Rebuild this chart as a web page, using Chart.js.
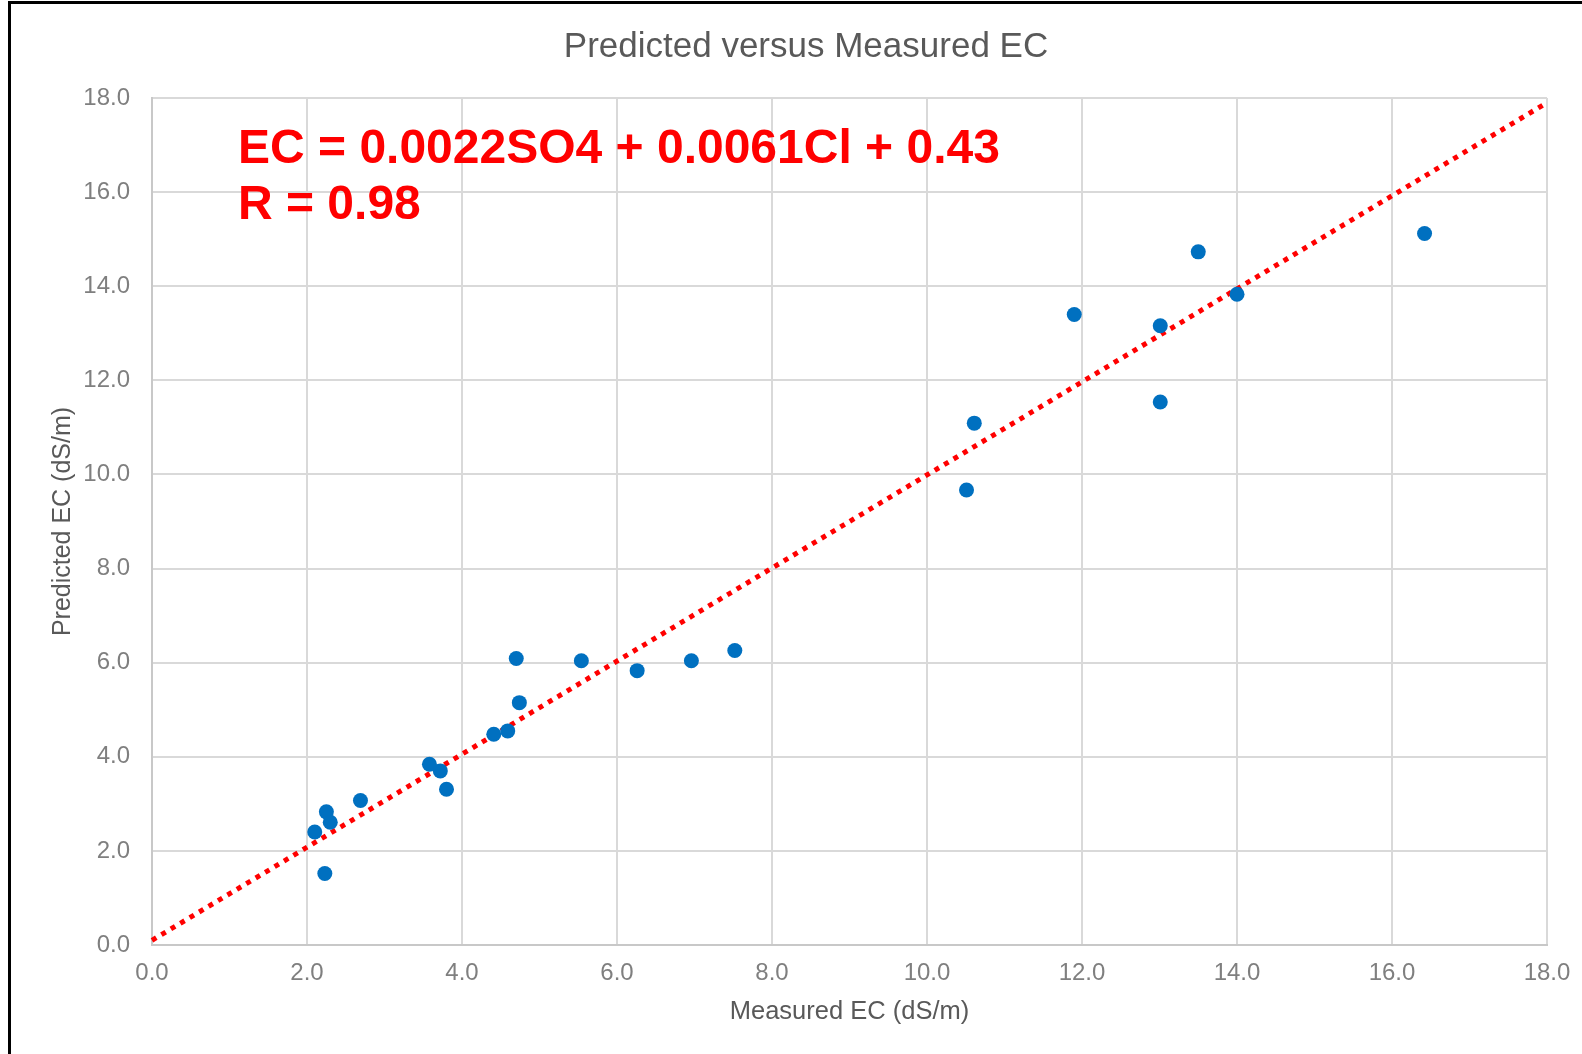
<!DOCTYPE html>
<html>
<head>
<meta charset="utf-8">
<script src="https://cdn.jsdelivr.net/npm/chart.js@4.4.1/dist/chart.umd.min.js"></script>
<style>
  html, body { margin: 0; padding: 0; background: #ffffff; }
  #wrap { position: relative; width: 1582px; height: 1054px; overflow: hidden; }
  #frame { position: absolute; left: 8px; top: 1px; width: 1580px; height: 1060px;
           border-top: 3px solid #000; border-left: 3px solid #000; pointer-events: none; }
  canvas { display: block; }
</style>
</head>
<body>
<div id="wrap">
  <canvas id="c" width="1582" height="1054"></canvas>
  <div id="frame"></div>
</div>
<script>
// ---- Data ----
const measuredEC = [4.70, 5.54, 6.26, 6.96, 7.52, 4.74, 4.41, 4.59, 3.58, 3.72, 3.80, 2.69, 2.25, 2.30, 2.10, 2.23,
                    16.42, 13.50, 14.00, 11.90, 13.01, 13.01, 10.61, 10.51];
const predictedEC = [6.09, 6.04, 5.83, 6.04, 6.26, 5.15, 4.48, 4.55, 3.84, 3.70, 3.31, 3.07, 2.83, 2.61, 2.40, 1.52,
                     15.12, 14.73, 13.83, 13.40, 13.16, 11.54, 11.09, 9.67];
const trendX = [0, 18];
const trendY = [0.1, 17.9];
const axisTicks = [0, 2, 4, 6, 8, 10, 12, 14, 16, 18];
const chartTitle = 'Predicted versus Measured EC';
const xTitle = 'Measured EC (dS/m)';
const yTitle = 'Predicted EC (dS/m)';
const annotationLines = ['EC = 0.0022SO4 + 0.0061Cl + 0.43', 'R = 0.98'];

const FONT = "'Liberation Sans', Arial, sans-serif";

const points = measuredEC.map((x, i) => ({ x: x, y: predictedEC[i] }));
const trend = trendX.map((x, i) => ({ x: x, y: trendY[i] }));

const textPlugin = {
  id: 'textPlugin',
  afterDatasetsDraw(chart) {
    const ctx = chart.ctx;
    const a = chart.chartArea;
    ctx.save();
    // Equation annotation
    ctx.fillStyle = '#FF0000';
    ctx.font = 'bold 48px ' + FONT;
    ctx.textAlign = 'left';
    ctx.textBaseline = 'alphabetic';
    ctx.fillText(annotationLines[0], a.left + 86, a.top + 64.5);
    ctx.fillText(annotationLines[1], a.left + 86, a.top + 120.5);
    // Chart title
    ctx.fillStyle = '#595959';
    ctx.font = '35px ' + FONT;
    ctx.textAlign = 'center';
    ctx.fillText(chartTitle, chart.width / 2 + 15, 57);
    ctx.restore();
  }
};

new Chart(document.getElementById('c'), {
  type: 'scatter',
  data: {
    datasets: [
      {
        label: 'Measured vs Predicted',
        data: points,
        backgroundColor: '#0070C0',
        borderColor: '#0070C0',
        borderWidth: 0,
        pointRadius: 7.5,
        pointHoverRadius: 7.5,
        order: 1
      },
      {
        type: 'line',
        label: 'Trend',
        data: trend,
        borderColor: '#FF0000',
        borderWidth: 5,
        borderDash: [5, 6],
        borderCapStyle: 'butt',
        pointRadius: 0,
        fill: false,
        tension: 0,
        clip: false,
        order: 2
      }
    ]
  },
  options: {
    responsive: false,
    devicePixelRatio: 1,
    animation: false,
    layout: { padding: { left: 0, right: 35, top: 98, bottom: 0 } },
    plugins: {
      legend: { display: false },
      tooltip: { enabled: false },
      title: { display: false }
    },
    scales: {
      x: {
        type: 'linear',
        min: 0, max: 18,
        afterFit(scale) {
          scale.height = 109;
          scale.paddingLeft = 0; scale.paddingRight = 0;
          scale.paddingTop = 0; scale.paddingBottom = 0;
        },
        afterBuildTicks(scale) { scale.ticks = axisTicks.map(v => ({ value: v })); },
        grid: { color: '#d9d9d9', lineWidth: 2, drawTicks: false },
        border: { color: '#c8c8c8', width: 2 },
        ticks: {
          color: '#7f7f7f',
          font: { family: FONT, size: 24 },
          padding: 14,
          maxRotation: 0,
          autoSkip: false,
          callback: (v) => Number(v).toFixed(1)
        },
        title: {
          display: true,
          text: xTitle,
          color: '#595959',
          font: { family: FONT, size: 25.5 },
          padding: { top: 0, bottom: 27 }
        }
      },
      y: {
        type: 'linear',
        min: 0, max: 18,
        afterFit(scale) {
          scale.width = 152;
          scale.paddingLeft = 0; scale.paddingRight = 0;
          scale.paddingTop = 0; scale.paddingBottom = 0;
        },
        afterBuildTicks(scale) { scale.ticks = axisTicks.map(v => ({ value: v })); },
        grid: { color: '#d9d9d9', lineWidth: 2, drawTicks: false },
        border: { color: '#c8c8c8', width: 2 },
        ticks: {
          color: '#7f7f7f',
          font: { family: FONT, size: 24 },
          padding: 22,
          autoSkip: false,
          callback: (v) => Number(v).toFixed(1)
        },
        title: {
          display: true,
          text: yTitle,
          color: '#595959',
          font: { family: FONT, size: 25 },
          padding: { top: 48, bottom: 0 }
        }
      }
    }
  },
  plugins: [textPlugin]
});
</script>
</body>
</html>
